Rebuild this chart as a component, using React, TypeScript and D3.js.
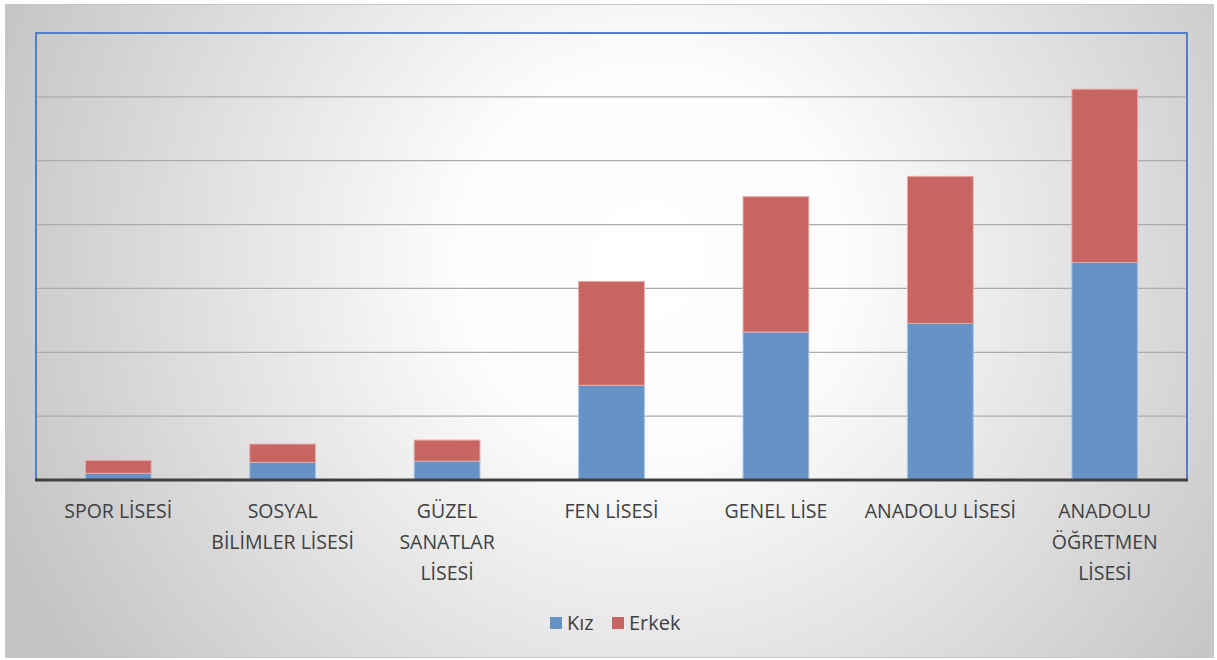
import { useEffect, useRef } from "react";
import * as d3 from "d3";

const categories = [
  "SPOR LİSESİ",
  "SOSYAL BİLİMLER LİSESİ",
  "GÜZEL SANATLAR LİSESİ",
  "FEN LİSESİ",
  "GENEL LİSE",
  "ANADOLU LİSESİ",
  "ANADOLU ÖĞRETMEN LİSESİ",
];
// how the axis labels wrap in the original
const categoryLines = [
  ["SPOR LİSESİ"],
  ["SOSYAL", "BİLİMLER LİSESİ"],
  ["GÜZEL", "SANATLAR", "LİSESİ"],
  ["FEN LİSESİ"],
  ["GENEL LİSE"],
  ["ANADOLU LİSESİ"],
  ["ANADOLU", "ÖĞRETMEN", "LİSESİ"],
];
const kiz = [10.5, 27.6, 29.7, 148.4, 231.7, 245.3, 340.6];
const erkek = [20.3, 28.7, 32.8, 162.6, 212, 230.2, 271.4];
const gridTicks = [0, 100, 200, 300, 400, 500, 600, 700];

const W = 1217;
const H = 660;
const BLUE = "#6692c6";
const RED = "#c76562";

export default function App() {
  const svgRef = useRef<SVGSVGElement>(null);

  useEffect(() => {
    document.body.style.margin = "0";
    const svg = d3.select(svgRef.current);
    svg.selectAll("*").remove();

    const defs = svg.append("defs");
    const grad = defs.append("radialGradient")
      .attr("id", "bg").attr("gradientUnits", "userSpaceOnUse")
      .attr("cx", 650).attr("cy", 260).attr("r", 700);
    grad.append("stop").attr("offset", "0%").attr("stop-color", "#ffffff");
    grad.append("stop").attr("offset", "28%").attr("stop-color", "#fcfcfc");
    grad.append("stop").attr("offset", "100%").attr("stop-color", "#c4c4c4");

    svg.append("rect").attr("width", W).attr("height", H).attr("fill", "#ffffff");
    svg.append("rect")
      .attr("x", 5.5).attr("y", 4.5).attr("width", 1208).attr("height", 653)
      .attr("fill", "url(#bg)").attr("stroke", "#c6c6c6");

    const left = 36, right = 1187, top = 33, bottom = 480;
    const x = d3.scaleBand<string>().domain(categories).range([left, right]).padding(0);
    const y = d3.scaleLinear().domain([0, 700]).range([bottom, top]);
    const barW = x.bandwidth() * 0.4;

    const g = svg.append("g");

    // gridlines
    g.selectAll("line.grid")
      .data(gridTicks.slice(1, -1))
      .enter().append("line")
      .attr("x1", left).attr("x2", right)
      .attr("y1", (d) => y(d)).attr("y2", (d) => y(d))
      .attr("stroke", "#ababab").attr("stroke-width", 1.2);

    // stacked bars
    const rows = categories.map((c, i) => ({ c, k: kiz[i], e: erkek[i] }));
    const bars = g.selectAll("g.bar").data(rows).enter().append("g");
    bars.append("rect")
      .attr("x", (d) => (x(d.c) as number) + (x.bandwidth() - barW) / 2)
      .attr("width", barW)
      .attr("y", (d) => y(d.k))
      .attr("height", (d) => y(0) - y(d.k))
      .attr("fill", BLUE)
      .attr("stroke", "#a9c4e6").attr("stroke-width", 1);
    bars.append("rect")
      .attr("x", (d) => (x(d.c) as number) + (x.bandwidth() - barW) / 2)
      .attr("width", barW)
      .attr("y", (d) => y(d.k + d.e))
      .attr("height", (d) => y(d.k) - y(d.k + d.e))
      .attr("fill", RED)
      .attr("stroke", "#e6acab").attr("stroke-width", 1);

    // plot frame
    g.append("path")
      .attr("d", `M${left},${bottom} V${top} H${right} V${bottom}`)
      .attr("fill", "none").attr("stroke", "#4f81c9").attr("stroke-width", 2);
    g.append("line")
      .attr("x1", left - 1).attr("x2", right + 1).attr("y1", bottom).attr("y2", bottom)
      .attr("stroke", "#404040").attr("stroke-width", 3);

    // category labels
    const labels = g.selectAll("text.cat").data(categories).enter().append("text")
      .attr("text-anchor", "middle")
      .attr("font-family", "'Open Sans', sans-serif")
      .attr("font-size", "19.5px")
      .attr("fill", "#404040");
    labels.each(function (c, i) {
      const t = d3.select(this);
      categoryLines[i].forEach((line, j) => {
        t.append("tspan")
          .attr("x", (x(c) as number) + x.bandwidth() / 2)
          .attr("y", 518 + j * 31)
          .text(line);
      });
    });

    // legend
    const legend = svg.append("g").attr("font-family", "'Open Sans', sans-serif")
      .attr("font-size", "20px").attr("fill", "#404040");
    const items = [
      { label: "Kız", color: BLUE, x: 550 },
      { label: "Erkek", color: RED, x: 612 },
    ];
    items.forEach((it) => {
      legend.append("rect").attr("x", it.x).attr("y", 617).attr("width", 12).attr("height", 12)
        .attr("fill", it.color);
      legend.append("text").attr("x", it.x + 17).attr("y", 630).text(it.label);
    });
  }, []);

  return <svg ref={svgRef} width={W} height={H} style={{ display: "block" }} />;
}
